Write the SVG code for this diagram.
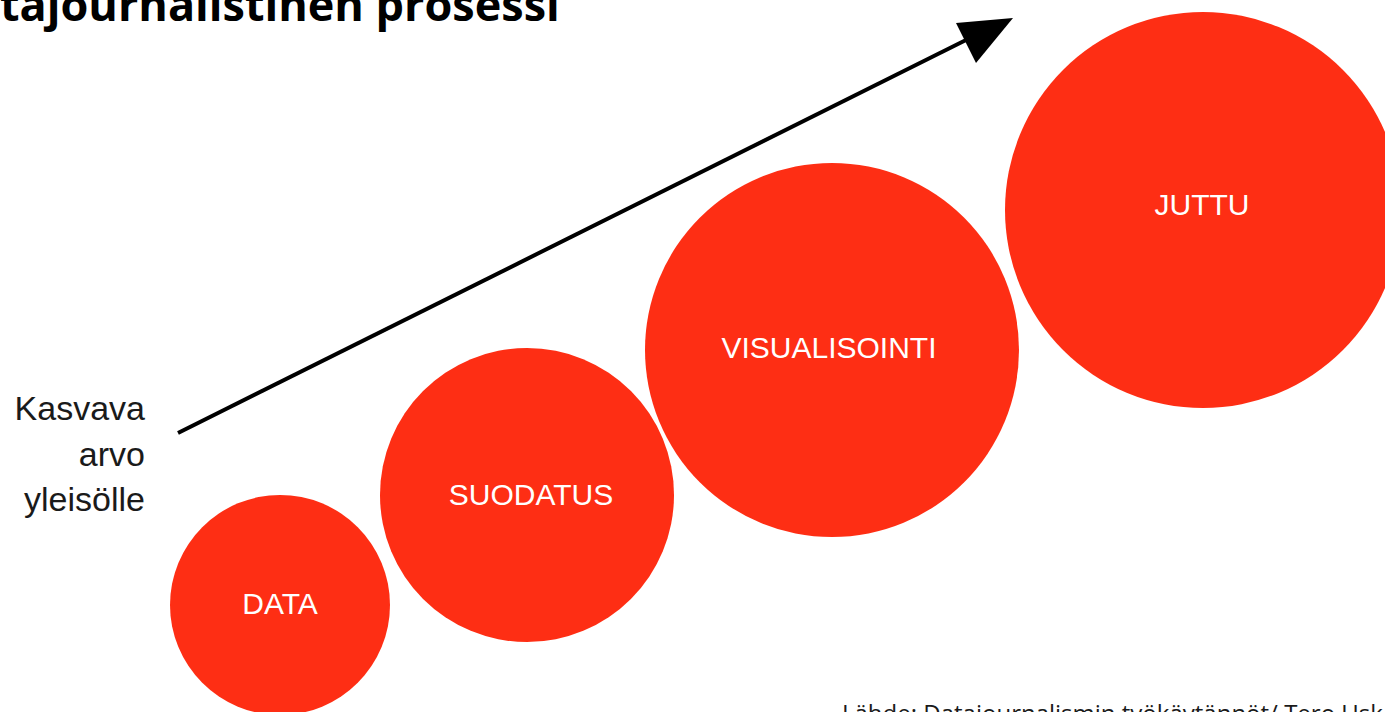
<svg xmlns="http://www.w3.org/2000/svg" width="1385" height="712" viewBox="0 0 1385 712">
<style>
.node{fill:#fe2e14}
.lbl{fill:#ffffff;font-family:"Liberation Sans",Arial,sans-serif;font-size:30px;text-anchor:middle}
.side{fill:#1a1a1a;font-family:"Liberation Sans",Arial,sans-serif;font-size:34px;text-anchor:end}
</style>
<rect width="1385" height="712" fill="#ffffff"/>
<text x="0" y="21" font-family="'Open Sans','Liberation Sans',sans-serif" font-weight="bold" font-size="45" fill="#000">tajournalistinen prosessi</text>
<g id="connectors">
<line x1="178" y1="433" x2="966" y2="40" stroke="#000" stroke-width="4"/>
<path d="M1013,18 L956,23 L976,63 Z" fill="#000"/>
</g>
<g id="n-data">
<circle class="node" cx="280" cy="605" r="110"/>
<text class="lbl" x="280" y="614">DATA</text>
</g>
<g id="n-suodatus">
<circle class="node" cx="527" cy="495" r="147"/>
<text class="lbl" x="531" y="505">SUODATUS</text>
</g>
<g id="n-visualisointi">
<circle class="node" cx="832" cy="350" r="187"/>
<text class="lbl" x="829" y="358">VISUALISOINTI</text>
</g>
<g id="n-juttu">
<circle class="node" cx="1203" cy="210" r="198"/>
<text class="lbl" x="1202" y="215">JUTTU</text>
</g>
<g id="side-label">
<text class="side" x="145" y="420">Kasvava</text>
<text class="side" x="145" y="466">arvo</text>
<text class="side" x="145" y="511">yleisölle</text>
</g>
<text x="842" y="722" font-family="'Open Sans','Liberation Sans',sans-serif" font-size="24" fill="#1a1a1a">Lähde: Datajournalismin työkäytännöt/ Tero Usk</text>
</svg>
